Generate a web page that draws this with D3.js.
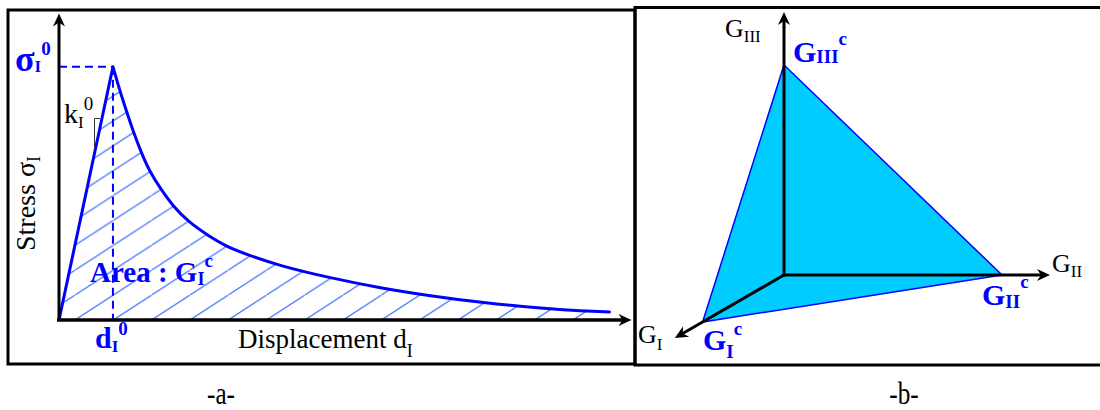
<!DOCTYPE html>
<html><head><meta charset="utf-8">
<script src="https://cdn.jsdelivr.net/npm/d3@7"></script>
<style>html,body{margin:0;padding:0;background:#fff;}svg{display:block;}</style>
</head><body><svg id="c" width="1100" height="410"></svg>
<script>
// ---- Panel (a): traction–separation law (displacement vs stress) ----
const displacement = [0, 9.8, 11.1, 12.3, 13.5, 15.0, 16.5, 18.4, 20.8, 23.5, 26.9, 30.5, 34.1, 40.2, 49.3, 58.4, 67.5, 76.5, 89.3, 94.7, 100];
const stress       = [0, 100, 90.1, 82.2, 74.3, 65.8, 58.5, 52.0, 44.7, 38.8, 33.6, 28.9, 25.9, 21.3, 16.6, 12.6, 9.5, 6.9, 4.3, 3.6, 3.2];
const peakIndex = 1;
const axisMaxA = {d: 104, s: 121};
// ---- Panel (b): critical energy release rates (mode I, II, III) ----
const modes = ["I", "II", "III"];
const criticalG = [0.94, 2.18, 2.10];
const axisLenB = [1.26, 2.66, 2.63];
const captions = ["-a-", "-b-"];

const svg = d3.select("#c");
const SERIF = "'Liberation Serif','Times New Roman',serif";
const BLUE = "#0000ff";

// frames
svg.append("rect").attr("x",8).attr("y",10).attr("width",627).attr("height",354)
  .attr("fill","none").attr("stroke","#000").attr("stroke-width",3);
svg.append("rect").attr("x",635).attr("y",7.5).attr("width",520).attr("height",357.5)
  .attr("fill","none").attr("stroke","#000").attr("stroke-width",3);

const x = d3.scaleLinear().domain([0,100]).range([59,609.5]);
const y = d3.scaleLinear().domain([0,100]).range([320,66.7]);

function arrowHead(g, px, py, angleDeg, color){
  g.append("path").attr("d","M0,0 L-13,-6 L-9,0 L-13,6 Z")
    .attr("transform",`translate(${px},${py}) rotate(${angleDeg})`)
    .attr("fill",color||"#000");
}

const gA = svg.append("g");
const defs = svg.append("defs");
// hatch pattern
const W = 38.3, H = W*0.65;
const pat = defs.append("pattern").attr("id","hatch").attr("patternUnits","userSpaceOnUse")
  .attr("x",75).attr("y",320).attr("width",W).attr("height",H);
pat.append("line").attr("x1",-1).attr("y1",H+0.65).attr("x2",W+1).attr("y2",-0.65)
  .attr("stroke","#3f6fff").attr("stroke-width",1.2);

const pts = displacement.map((d,i)=>[d, stress[i]]);
const rise = pts.slice(0, peakIndex+1);
const soft = pts.slice(peakIndex);
const softCurve = d3.curveBasis;

// area under curve
gA.append("path").datum(rise).attr("d", d3.area().x(d=>x(d[0])).y0(y(0)).y1(d=>y(d[1]))).attr("fill","url(#hatch)");
gA.append("path").datum(soft).attr("d", d3.area().x(d=>x(d[0])).y0(y(0)).y1(d=>y(d[1])).curve(softCurve)).attr("fill","url(#hatch)");

// dashed guides
const pk = pts[peakIndex];
gA.append("line").attr("x1",x(0)).attr("y1",y(pk[1])).attr("x2",x(pk[0])).attr("y2",y(pk[1]))
  .attr("stroke",BLUE).attr("stroke-width",2).attr("stroke-dasharray","8,5");
gA.append("line").attr("x1",x(pk[0])).attr("y1",y(pk[1])).attr("x2",x(pk[0])).attr("y2",y(0))
  .attr("stroke",BLUE).attr("stroke-width",2).attr("stroke-dasharray","8,5");

// curve
gA.append("path").datum(rise).attr("d", d3.line().x(d=>x(d[0])).y(d=>y(d[1])))
  .attr("fill","none").attr("stroke",BLUE).attr("stroke-width",3);
gA.append("path").datum(soft).attr("d", d3.line().x(d=>x(d[0])).y(d=>y(d[1])).curve(softCurve))
  .attr("fill","none").attr("stroke",BLUE).attr("stroke-width",3).attr("stroke-linecap","round");

// axes
gA.append("line").attr("x1",x(0)).attr("y1",y(0)).attr("x2",x(0)).attr("y2",y(axisMaxA.s)+6)
  .attr("stroke","#000").attr("stroke-width",3);
arrowHead(gA, x(0), y(axisMaxA.s), -90);
gA.append("line").attr("x1",x(0)-2).attr("y1",y(0)).attr("x2",x(axisMaxA.d)-6).attr("y2",y(0))
  .attr("stroke","#000").attr("stroke-width",3.5);
arrowHead(gA, x(axisMaxA.d), y(0), 0);

// slope marker
gA.append("path").attr("d","M100,118.5 L94.5,118.5 L94.5,147").attr("fill","none")
  .attr("stroke","#333").attr("stroke-width",1);

function label(g, xx, parts, opts){
  const t = g.append("text").attr("x",xx).attr("font-family",SERIF)
    .attr("fill",opts.color).attr("font-weight",opts.bold?"bold":"normal");
  if(opts.transform) t.attr("transform",opts.transform);
  parts.forEach((p,i)=>{
    const ts = t.append("tspan").attr("y",p[2]).attr("font-size",p[1]).text(p[0]);
    if(i===0) ts.attr("x",xx);
  });
  return t;
}
label(gA, 15, [["σ",36,71],["I",17,72],["0",19,55]], {color:BLUE,bold:true});
label(gA, 64, [["k",28,123],["I",17,128],["0",19,110]], {color:"#000"});
label(gA, 0, [["Stress σ",28,0],["I",18,5]], {color:"#000", transform:"translate(35,251) rotate(-90)"});
label(gA, 90, [["Area : G",29,282],["I",18,285],["c",19,267]], {color:BLUE,bold:true});
label(gA, 95, [["d",30,348],["I",17,352],["0",19,335]], {color:BLUE,bold:true});
label(gA, 238, [["Displacement d",27,348],["I",18,357]], {color:"#000"});

// ---- panel b ----
const gB = svg.append("g");
const origin = [784, 275];
const s = d3.scaleLinear().domain([0,1]).range([0,100]);
const dirs = [[-Math.cos(Math.PI/6), Math.sin(Math.PI/6)], [1,0], [0,-1]];
function proj(mode, v){ return [origin[0]+dirs[mode][0]*s(v), origin[1]+dirs[mode][1]*s(v)]; }
const tri = criticalG.map((v,i)=>proj(i,v));
gB.append("path").attr("d","M"+[tri[2],tri[1],tri[0]].map(p=>p.join(",")).join("L")+"Z")
  .attr("fill","#00ccff").attr("stroke",BLUE).attr("stroke-width",1.5).attr("stroke-linejoin","miter");
axisLenB.forEach((len,i)=>{
  const end = proj(i, len);
  const inner = proj(i, len-0.07);
  gB.append("line").attr("x1",origin[0]).attr("y1",origin[1]).attr("x2",inner[0]).attr("y2",inner[1])
    .attr("stroke","#000").attr("stroke-width",3).attr("stroke-linecap","square");
  const ang = Math.atan2(dirs[i][1], dirs[i][0])*180/Math.PI;
  arrowHead(gB, end[0], end[1], ang);
});
label(gB, 725, [["G",26,37],["III",17,42]], {color:"#000"});
label(gB, 793, [["G",30,62],["III",19,63],["c",19,45]], {color:BLUE,bold:true});
label(gB, 1052, [["G",26,272],["II",17,277]], {color:"#000"});
label(gB, 982, [["G",30,305],["II",19,308],["c",19,288]], {color:BLUE,bold:true});
label(gB, 638, [["G",26,343],["I",17,350]], {color:"#000"});
label(gB, 703, [["G",30,350],["I",19,358],["c",19,335]], {color:BLUE,bold:true});

// captions
svg.selectAll("text.cap").data(captions).enter().append("text").attr("class","cap")
  .attr("transform",(d,i)=>`translate(${[221,904][i]},404) scale(0.9,1.1)`).attr("text-anchor","middle")
  .attr("font-family",SERIF).attr("font-size",28).text(d=>d);
</script></body></html>
